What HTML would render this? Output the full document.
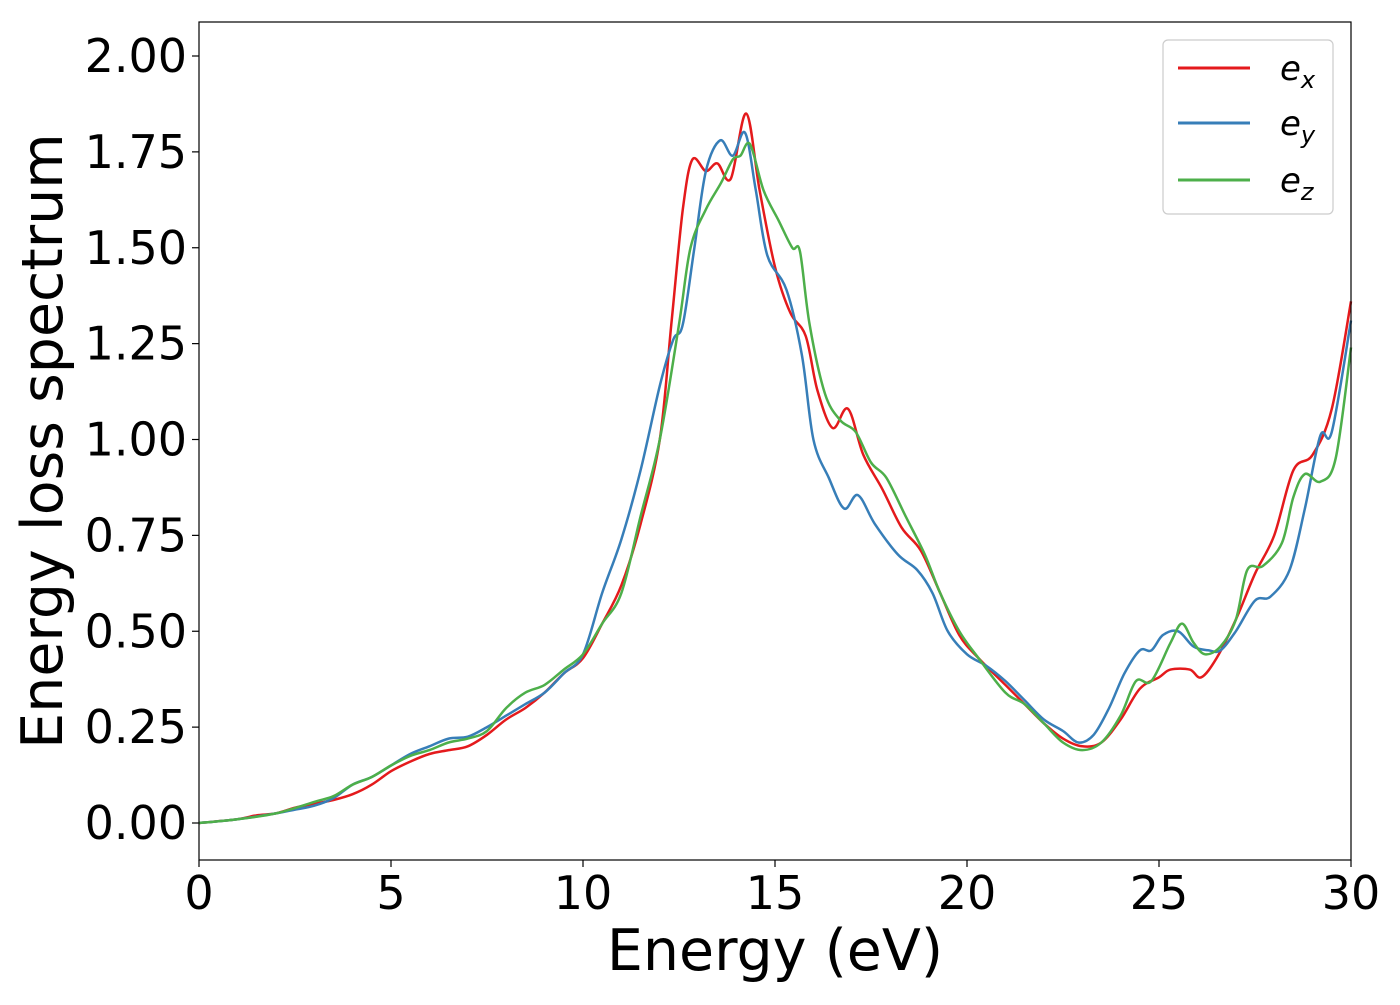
<!DOCTYPE html>
<html><head><meta charset="utf-8"><style>
body{margin:0;background:#fff;}
svg text{font-family:"DejaVu Sans","Liberation Sans",sans-serif;fill:#000;}
</style></head><body>
<svg id="chart" width="1400" height="1000" viewBox="0 0 1400 1000" xmlns="http://www.w3.org/2000/svg">
<rect x="0" y="0" width="1400" height="1000" fill="#fff"/>
<g id="series"></g>
<rect x="199" y="22" width="1152" height="838" fill="none" stroke="#000" stroke-width="1.2"/>
<g id="xticks"></g>
<g id="yticks"></g>
<text x="775" y="970" font-size="57" text-anchor="middle">Energy (eV)</text>
<text transform="translate(62,441) rotate(-90)" font-size="57" text-anchor="middle">Energy loss spectrum</text>
<g>
<rect x="1163" y="40" width="170" height="174" rx="5" fill="#fff" stroke="#ccc" stroke-width="1.2"/>
<g><line x1="1178" y1="68" x2="1250" y2="68" stroke="#e41a1c" stroke-width="3"/><text x="1280" y="80" font-size="34" font-style="italic">e<tspan font-size="24" dy="8">x</tspan></text></g>
<g><line x1="1178" y1="123" x2="1250" y2="123" stroke="#377eb8" stroke-width="3"/><text x="1280" y="135" font-size="34" font-style="italic">e<tspan font-size="24" dy="8">y</tspan></text></g>
<g><line x1="1178" y1="180" x2="1250" y2="180" stroke="#4daf4a" stroke-width="3"/><text x="1280" y="192" font-size="34" font-style="italic">e<tspan font-size="24" dy="8">z</tspan></text></g>
</g>
</svg>
<script>
const xTickLabels=["0","5","10","15","20","25","30"];
const xTickValues=[0,5,10,15,20,25,30];
const yTickLabels=["0.00","0.25","0.50","0.75","1.00","1.25","1.50","1.75","2.00"];
const yTickValues=[0,0.25,0.5,0.75,1,1.25,1.5,1.75,2];
const exE=[0,1,1.5,2,2.5,3,3.5,4,4.5,5,5.5,6,6.5,7,7.5,8,8.5,9,9.5,10,10.5,11,11.5,12,12.3,12.6,12.85,13.2,13.5,13.85,14.25,14.6,15,15.4,15.8,16.1,16.5,16.9,17.3,17.8,18.3,18.8,19.3,19.8,20.3,21,21.5,22,22.5,23,23.5,24,24.5,25,25.3,25.8,26.1,26.5,27,27.5,28,28.5,29,29.5,30];
const exV=[0,0.01,0.02,0.025,0.04,0.05,0.06,0.075,0.1,0.135,0.16,0.18,0.19,0.2,0.23,0.27,0.3,0.34,0.39,0.43,0.52,0.62,0.78,1.0,1.3,1.6,1.73,1.70,1.72,1.68,1.85,1.65,1.45,1.33,1.27,1.13,1.03,1.08,0.96,0.87,0.77,0.71,0.6,0.49,0.43,0.36,0.31,0.26,0.22,0.2,0.21,0.27,0.35,0.38,0.4,0.4,0.38,0.43,0.53,0.65,0.75,0.92,0.96,1.08,1.36];
const eyE=[0,1,2,2.5,3,3.5,4,4.5,5,5.5,6,6.5,7,7.5,8,8.5,9,9.5,10,10.5,11,11.5,12,12.35,12.6,12.9,13.2,13.57,13.9,14.22,14.5,14.8,15.3,15.7,16,16.4,16.8,17.16,17.6,18.2,18.7,19.1,19.5,20,20.5,21,21.5,22,22.5,22.9,23.3,23.7,24.1,24.5,24.8,25.1,25.5,25.9,26.3,26.6,27,27.5,27.9,28.4,28.8,29.2,29.5,30];
const eyV=[0,0.01,0.025,0.035,0.045,0.065,0.1,0.12,0.15,0.18,0.2,0.22,0.225,0.25,0.28,0.31,0.34,0.39,0.44,0.6,0.74,0.92,1.14,1.26,1.3,1.5,1.7,1.78,1.74,1.8,1.65,1.48,1.39,1.22,1.0,0.9,0.82,0.855,0.78,0.7,0.66,0.6,0.5,0.44,0.41,0.37,0.32,0.27,0.24,0.21,0.23,0.3,0.39,0.45,0.45,0.49,0.5,0.46,0.45,0.45,0.5,0.58,0.59,0.66,0.82,1.01,1.02,1.31];
const ezE=[0,1,2,3,3.5,4,4.5,5,5.5,6,6.5,7,7.5,8,8.5,9,9.5,10,10.5,11,11.5,12,12.5,12.8,13.2,13.6,13.9,14.1,14.35,14.7,15.1,15.45,15.65,15.9,16.3,16.7,17.1,17.5,17.9,18.4,18.9,19.3,19.8,20.3,21,21.5,22,22.5,23,23.5,24,24.4,24.8,25.3,25.6,25.9,26.2,26.6,27,27.3,27.7,28.2,28.5,28.8,29.2,29.6,30];
const ezV=[0,0.01,0.025,0.055,0.07,0.1,0.12,0.15,0.175,0.19,0.21,0.22,0.24,0.3,0.34,0.36,0.4,0.44,0.52,0.6,0.8,1.0,1.3,1.5,1.6,1.67,1.73,1.74,1.77,1.65,1.57,1.5,1.49,1.3,1.12,1.05,1.02,0.94,0.9,0.8,0.7,0.6,0.5,0.43,0.34,0.31,0.26,0.21,0.19,0.21,0.28,0.37,0.37,0.47,0.52,0.47,0.44,0.46,0.53,0.66,0.67,0.73,0.85,0.91,0.89,0.95,1.24];
const NS="http://www.w3.org/2000/svg";
function xs(e){return 199+e*(1152/30);}
function ys(v){return 823-v*383.5;}
function path(E,V){
  const p=E.map((e,i)=>[xs(e),ys(V[i])]);
  let d="M"+p[0][0].toFixed(1)+","+p[0][1].toFixed(1);
  for(let i=0;i<p.length-1;i++){
    const p0=p[Math.max(0,i-1)],p1=p[i],p2=p[i+1],p3=p[Math.min(p.length-1,i+2)];
    const c1=[p1[0]+(p2[0]-p0[0])/6,p1[1]+(p2[1]-p0[1])/6];
    const c2=[p2[0]-(p3[0]-p1[0])/6,p2[1]-(p3[1]-p1[1])/6];
    d+="C"+c1[0].toFixed(1)+","+c1[1].toFixed(1)+" "+c2[0].toFixed(1)+","+c2[1].toFixed(1)+" "+p2[0].toFixed(1)+","+p2[1].toFixed(1);
  }
  return d;
}
const g=document.getElementById("series");
[[exE,exV,"#e41a1c","series-ex"],[eyE,eyV,"#377eb8","series-ey"],[ezE,ezV,"#4daf4a","series-ez"]].forEach(s=>{
  const el=document.createElementNS(NS,"path");
  el.setAttribute("d",path(s[0],s[1]));
  el.setAttribute("fill","none");el.setAttribute("stroke",s[2]);el.setAttribute("stroke-width","2.5");
  
  
  g.appendChild(el);
});
const xg=document.getElementById("xticks");
xTickValues.forEach((v,i)=>{
  const x=xs(v);
  const t=document.createElementNS(NS,"line");
  t.setAttribute("x1",x);t.setAttribute("x2",x);t.setAttribute("y1",860);t.setAttribute("y2",867);t.setAttribute("stroke","#000");t.setAttribute("stroke-width","1.2");
  
  
  xg.appendChild(t);
  const l=document.createElementNS(NS,"text");
  l.setAttribute("x",x);l.setAttribute("y",909);l.setAttribute("font-size","46");l.setAttribute("text-anchor","middle");
  l.textContent=xTickLabels[i];
  
  
  xg.appendChild(l);
});
const yg=document.getElementById("yticks");
yTickValues.forEach((v,i)=>{
  const y=ys(v);
  const t=document.createElementNS(NS,"line");
  t.setAttribute("x1",192);t.setAttribute("x2",199);t.setAttribute("y1",y);t.setAttribute("y2",y);t.setAttribute("stroke","#000");t.setAttribute("stroke-width","1.2");
  
  
  yg.appendChild(t);
  const l=document.createElementNS(NS,"text");
  l.setAttribute("x",187);l.setAttribute("y",y+16);l.setAttribute("font-size","46");l.setAttribute("text-anchor","end");
  l.textContent=yTickLabels[i];
  
  
  yg.appendChild(l);
});
</script>
</body></html>
